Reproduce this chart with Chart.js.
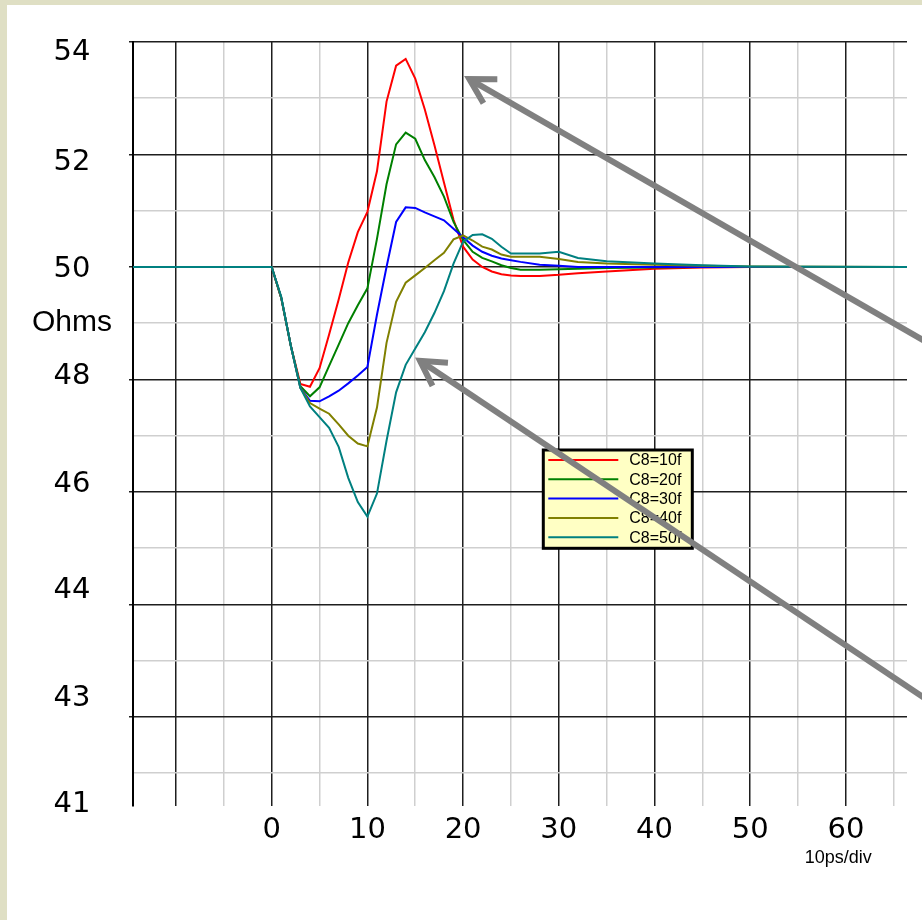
<!DOCTYPE html>
<html>
<head>
<meta charset="utf-8">
<title>TDR impedance vs C8</title>
<script src="https://cdn.jsdelivr.net/npm/chart.js@4.4.0/dist/chart.umd.min.js"></script>
<style>
  html, body { margin: 0; padding: 0; background: #dfdfc4; }
  #wrap { position: absolute; left: 7px; top: 5px; width: 915px; height: 915px; background: #fff; }
</style>
</head>
<body>
<div id="wrap"><canvas id="tdrChart" width="915" height="915"></canvas></div>
<script>
// time samples (x axis, 10ps/div) shared by every trace
const timeSteps = [-14.5, 0, 1, 2, 3, 4, 5, 6, 7, 8, 9, 10, 11, 12, 13, 14, 15, 16, 17, 18, 19, 20,
  21, 22, 23, 24, 25, 26, 28, 30, 32, 35, 40, 45, 50, 66.4];

// impedance in ohms, one array per C8 value
const c8_10f = [50, 50, 49.45, 48.6, 47.92, 47.87, 48.2, 48.8, 49.42, 50.08, 50.62, 50.98, 51.7, 52.94,
  53.58, 53.7, 53.35, 52.8, 52.17, 51.5, 50.84, 50.36, 50.13, 50.0, 49.92, 49.87, 49.85, 49.84, 49.84,
  49.86, 49.89, 49.92, 49.97, 49.99, 50, 50];
const c8_20f = [50, 50, 49.45, 48.6, 47.88, 47.7, 47.86, 48.24, 48.62, 49.0, 49.32, 49.62, 50.5, 51.47,
  52.18, 52.39, 52.28, 51.9, 51.6, 51.25, 50.8, 50.48, 50.27, 50.16, 50.1, 50.03, 49.98, 49.95, 49.95,
  49.96, 49.97, 49.98, 49.99, 50, 50, 50];
const c8_30f = [50, 50, 49.45, 48.6, 47.85, 47.62, 47.61, 47.7, 47.8, 47.93, 48.07, 48.22, 49.15, 50.0,
  50.8, 51.06, 51.05, 50.97, 50.9, 50.83, 50.68, 50.53, 50.38, 50.27, 50.2, 50.15, 50.12, 50.09, 50.04,
  50.02, 50.0, 50.0, 50.0, 50, 50, 50];
const c8_40f = [50, 50, 49.45, 48.6, 47.85, 47.58, 47.48, 47.39, 47.2, 47.0, 46.86, 46.81, 47.5, 48.65,
  49.38, 49.72, 49.85, 49.98, 50.12, 50.25, 50.49, 50.56, 50.47, 50.36, 50.31, 50.22, 50.18, 50.18, 50.18,
  50.14, 50.09, 50.06, 50.04, 50.02, 50.01, 50];
const c8_50f = [50, 50, 49.47, 48.6, 47.85, 47.52, 47.33, 47.14, 46.8, 46.25, 45.82, 45.56, 45.97, 46.91,
  47.77, 48.26, 48.55, 48.84, 49.18, 49.57, 50.06, 50.45, 50.57, 50.58, 50.5, 50.36, 50.24, 50.24, 50.24,
  50.27, 50.16, 50.1, 50.06, 50.03, 50.01, 50];

const seriesNames = ['C8=10f', 'C8=20f', 'C8=30f', 'C8=40f', 'C8=50f'];
const seriesValues = [c8_10f, c8_20f, c8_30f, c8_40f, c8_50f];
const seriesColors = ['#ff0000', '#008000', '#0000ff', '#808000', '#008080'];

// axes
const xMin = -14.49, xMax = 66.38;
const yMin = 40.42, yMax = 54;
const xGridValues = [-10, -5, 0, 5, 10, 15, 20, 25, 30, 35, 40, 45, 50, 55, 60, 65];
const xLabelValues = [0, 10, 20, 30, 40, 50, 60];
const yGridValues = [41, 42, 43, 44, 45, 46, 47, 48, 49, 50, 51, 52, 53, 54];
// the printed y labels do not sit exactly on the grid in the original
const yLabelValues = [53.82, 51.86, 49.96, 48.06, 46.14, 44.25, 42.32, 40.44];
const yLabelTexts = ['54', '52', '50', '48', '46', '44', '43', '41'];
const yUnitText = 'Ohms', yUnitAt = 49.0;
const xUnitText = '10ps/div', xUnitAt = 59.2;

// two grey call-out arrows, [tipX, tipY, tailX, tailY] in data units
const arrows = [
  [20.65, 53.34, 70, 48.51],
  [15.5, 48.33, 70, 42.13]
];

const MAJOR = '#1e1e1e';
const MINOR = '#cfcfcf';

const boxLegend = {
  id: 'boxLegend',
  afterDatasetsDraw(chart, args, opts) {
    const { ctx, chartArea } = chart;
    const left = chartArea.left + opts.left;
    const top = chartArea.top + opts.top;
    ctx.save();
    ctx.fillStyle = opts.background;
    ctx.fillRect(left, top, opts.width, opts.height);
    ctx.lineWidth = 3;
    ctx.strokeStyle = '#000';
    ctx.strokeRect(left, top, opts.width, opts.height);
    ctx.font = '16px "Liberation Sans", Arial, sans-serif';
    ctx.textBaseline = 'middle';
    chart.data.datasets.forEach((ds, i) => {
      const y = top + opts.firstRow + i * opts.rowGap;
      ctx.strokeStyle = ds.borderColor;
      ctx.lineWidth = 2;
      ctx.beginPath();
      ctx.moveTo(left + opts.lineStart, y);
      ctx.lineTo(left + opts.lineEnd, y);
      ctx.stroke();
      ctx.fillStyle = '#000';
      ctx.fillText(ds.label, left + opts.textStart, y + 1);
    });
    ctx.restore();
  }
};

const calloutArrows = {
  id: 'calloutArrows',
  afterDatasetsDraw(chart, args, opts) {
    const { ctx, scales } = chart;
    ctx.save();
    ctx.strokeStyle = opts.color;
    ctx.lineWidth = opts.width;
    ctx.lineJoin = 'miter';
    arrows.forEach(a => {
      const tx = scales.x.getPixelForValue(a[0]), ty = scales.y.getPixelForValue(a[1]);
      const ex = scales.x.getPixelForValue(a[2]), ey = scales.y.getPixelForValue(a[3]);
      const ang = Math.atan2(ey - ty, ex - tx);
      ctx.beginPath();
      ctx.moveTo(ex, ey);
      ctx.lineTo(tx, ty);
      ctx.stroke();
      ctx.beginPath();
      ctx.moveTo(tx + opts.head * Math.cos(ang - 0.52), ty + opts.head * Math.sin(ang - 0.52));
      ctx.lineTo(tx, ty);
      ctx.lineTo(tx + opts.head * Math.cos(ang + 0.52), ty + opts.head * Math.sin(ang + 0.52));
      ctx.stroke();
    });
    ctx.restore();
  }
};

const datasets = seriesNames.map((name, i) => ({
  label: name,
  data: timeSteps.map((t, k) => ({ x: t, y: seriesValues[i][k] })),
  borderColor: seriesColors[i],
  borderWidth: 2,
  pointRadius: 0,
  tension: 0,
  fill: false,
  order: seriesNames.length - i
}));

const isMajor = v => Math.abs(v % 2) < 1e-9;
const isMajorX = v => Math.abs(v % 10) < 1e-9;

new Chart(document.getElementById('tdrChart'), {
  type: 'line',
  data: { datasets: datasets },
  options: {
    responsive: false,
    animation: false,
    devicePixelRatio: 1,
    layout: { padding: { top: 37, right: 15, left: 0, bottom: 0 } },
    plugins: {
      legend: { display: false },
      tooltip: { enabled: false },
      boxLegend: {
        left: 410.3, top: 408, width: 149, height: 98.3, background: '#ffffc4',
        firstRow: 10, rowGap: 19.3, lineStart: 5, lineEnd: 75, textStart: 86
      },
      calloutArrows: { color: '#808080', width: 6, head: 28 }
    },
    scales: {
      x: {
        type: 'linear', min: xMin, max: xMax, position: 'bottom', weight: 0,
        afterBuildTicks: s => { s.ticks = xGridValues.map(v => ({ value: v })); },
        afterFit: s => { s.height = 40; },
        grid: {
          color: c => isMajorX(c.tick.value) ? MAJOR : MINOR,
          lineWidth: 1.5,
          drawTicks: false
        },
        border: { display: false },
        ticks: {
          autoSkip: false, maxRotation: 0, padding: 7, color: '#000',
          font: { family: '"DejaVu Sans", Verdana, sans-serif', size: 29 },
          callback: v => xLabelValues.includes(v) ? String(v) : ''
        }
      },
      xUnit: {
        type: 'linear', min: xMin, max: xMax, position: 'bottom', weight: 1,
        afterBuildTicks: s => { s.ticks = [{ value: xUnitAt }]; },
        afterFit: s => { s.height = 74.3; },
        grid: { display: false, drawTicks: false },
        border: { display: false },
        ticks: {
          autoSkip: false, maxRotation: 0, padding: 1.5, color: '#000',
          font: { family: '"Liberation Sans", Arial, sans-serif', size: 18 },
          callback: () => xUnitText
        }
      },
      y: {
        type: 'linear', min: yMin, max: yMax, position: 'left', weight: 0,
        afterBuildTicks: s => { s.ticks = yGridValues.map(v => ({ value: v })); },
        afterFit: s => { s.width = 5; },
        grid: {
          color: c => isMajor(c.tick.value) ? MAJOR : MINOR,
          tickColor: c => isMajor(c.tick.value) ? MAJOR : 'rgba(0,0,0,0)',
          lineWidth: 1.5,
          tickLength: 4
        },
        border: { display: true, color: '#000', width: 2 },
        ticks: { display: false }
      },
      yLabels: {
        type: 'linear', min: yMin, max: yMax, position: 'left', weight: 1,
        afterBuildTicks: s => {
          s.ticks = yLabelValues.map(v => ({ value: v })).concat([{ value: yUnitAt }]);
        },
        afterFit: s => { s.width = 121; },
        grid: { display: false, drawTicks: false },
        border: { display: false },
        ticks: {
          autoSkip: false, crossAlign: 'center', padding: 16, color: '#000',
          font: c => c.tick && c.tick.value === yUnitAt
            ? { family: '"Liberation Sans", Arial, sans-serif', size: 30 }
            : { family: '"DejaVu Sans", Verdana, sans-serif', size: 29 },
          callback: v => v === yUnitAt ? yUnitText : yLabelTexts[yLabelValues.indexOf(v)]
        }
      }
    }
  },
  plugins: [boxLegend, calloutArrows]
});
</script>
</body>
</html>
